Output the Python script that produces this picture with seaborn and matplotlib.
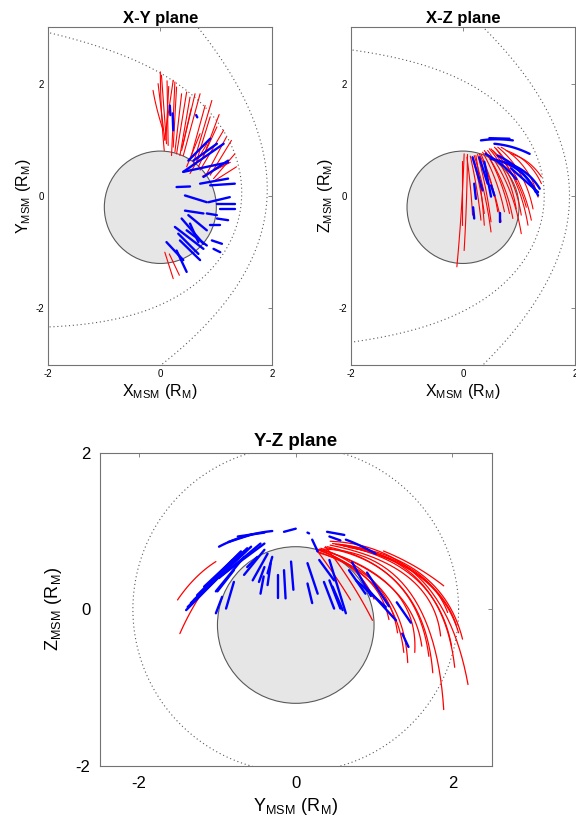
import numpy as np
import pandas as pd
import matplotlib
matplotlib.use("Agg")
import matplotlib.pyplot as plt
import seaborn as sns
from matplotlib.patches import Circle

# trajectories: (x0, y0, x1, y1) straight,
# or (x0, y0, xmid, ymid, x1, y1) when the track is bent
XY_RED = [
    (0.00, 2.21, 0.02, 1.50, 0.07, 0.81), (0.02, 2.15, 0.11, 0.93),
    (-0.13, 1.88, -0.06, 1.55, 0.05, 1.17), (-0.04, 2.00, 0.08, 0.99),
    (0.12, 2.05, 0.14, 0.90), (0.15, 1.95, 0.10, 1.00),
    (0.23, 2.06, 0.08, 1.05), (0.26, 2.03, 0.20, 0.72), (0.29, 1.94, 0.23, 0.87),
    (0.38, 1.82, 0.26, 0.78), (0.47, 1.85, 0.29, 0.75), (0.53, 1.76, 0.35, 0.72),
    (0.62, 1.82, 0.38, 0.81), (0.71, 1.82, 0.41, 0.72), (0.80, 1.61, 0.53, 0.63),
    (0.92, 1.70, 0.59, 0.58), (0.89, 1.41, 0.65, 0.63), (1.01, 1.23, 0.68, 0.52),
    (1.13, 1.17, 0.71, 0.46), (1.18, 1.05, 0.83, 0.40), (1.27, 0.99, 0.89, 0.37),
    (1.33, 0.75, 0.95, 0.31), (1.36, 0.52, 0.98, 0.28), (0.83, 0.93, 0.53, 0.40),
    (0.71, 1.11, 0.47, 0.52), (0.55, 1.55, 0.40, 0.90), (1.05, 1.45, 0.75, 0.65),
    (0.75, 0.35, 1.25, 0.60), (0.08, -1.00, 0.23, -1.47), (0.16, -1.03, 0.34, -1.41),
]
XY_BLUE = [
    (0.17, 1.61, 0.18, 1.44), (0.22, 1.47, 0.23, 1.17), (0.64, 1.44, 0.66, 1.40),
    (0.50, 0.63, 0.89, 1.02), (0.41, 0.43, 1.13, 0.93), (0.59, 0.63, 1.01, 0.93),
    (0.77, 0.34, 1.21, 0.63), (0.41, 0.43, 1.21, 0.60), (0.71, 0.22, 1.21, 0.31),
    (0.29, 0.16, 0.53, 0.17), (0.89, 0.19, 1.33, 0.22), (0.44, 0.01, 0.83, -0.11),
    (0.86, -0.11, 1.24, -0.02), (1.01, -0.14, 1.33, -0.14), (1.07, -0.23, 1.33, -0.23),
    (0.44, -0.26, 0.77, -0.31), (0.83, -0.31, 1.01, -0.34), (0.50, -0.34, 0.83, -0.61),
    (0.38, -0.40, 0.77, -0.85), (1.01, -0.40, 1.21, -0.43), (0.26, -0.55, 0.77, -0.94),
    (0.11, -0.82, 0.41, -1.14), (0.29, -0.97, 0.47, -1.35), (0.32, -0.67, 0.68, -1.03),
    (0.92, -0.79, 1.10, -0.85), (0.95, -0.94, 1.07, -1.00), (0.35, -0.79, 0.71, -1.14),
    (0.47, -0.61, 0.83, -0.88), (0.89, -0.52, 1.07, -0.52), (0.53, -0.49, 0.68, -0.82),
]
XZ_RED = [
    (0.02, 0.75, -0.03, -0.25, -0.11, -1.26), (0.08, 0.74, 0.06, -0.12, 0.02, -0.97),
    (-0.01, 0.63, -0.01, -0.52), (0.07, 0.69, 0.13, 0.18, 0.17, -0.34),
    (0.13, 0.71, 0.24, 0.15, 0.32, -0.43), (0.17, 0.69, 0.29, 0.20, 0.38, -0.31),
    (0.20, 0.72, 0.38, 0.05, 0.50, -0.64), (0.26, 0.74, 0.40, 0.15, 0.50, -0.46),
    (0.29, 0.75, 0.52, 0.17, 0.68, -0.46), (0.35, 0.78, 0.58, 0.28, 0.74, -0.28),
    (0.38, 0.81, 0.70, 0.24, 0.89, -0.40), (0.44, 0.81, 0.82, 0.13, 1.04, -0.67),
    (0.50, 0.84, 0.85, 0.31, 1.04, -0.34), (0.56, 0.87, 0.97, 0.30, 1.22, -0.43),
    (0.62, 0.87, 1.02, 0.40, 1.25, -0.23), (0.68, 0.87, 1.10, 0.50, 1.34, -0.02),
    (0.77, 0.81, 1.14, 0.59, 1.40, 0.22), (0.86, 0.75, 1.16, 0.60, 1.40, 0.34),
    (0.41, 0.78, 0.66, 0.27, 0.83, -0.31), (0.53, 0.81, 0.90, 0.36, 1.13, -0.20),
    (0.32, 0.75, 0.50, 0.25, 0.62, -0.28), (0.23, 0.72, 0.32, 0.10, 0.38, -0.52),
    (0.59, 0.84, 0.95, 0.22, 1.16, -0.52), (0.47, 0.84, 0.78, 0.35, 0.95, -0.23),
]
XZ_BLUE = [
    (0.32, 0.99, 0.60, 1.01, 0.89, 0.99), (0.47, 1.03, 0.83, 1.02),
    (0.56, 0.93, 0.88, 0.87, 1.19, 0.75), (0.17, 0.69, 0.35, 0.10),
    (0.20, 0.22, 0.23, -0.05), (0.18, -0.20, 0.20, -0.40), (0.66, -0.30, 0.66, -0.46),
    (0.50, 0.66, 1.00, 0.45, 1.34, 0.01), (0.74, 0.60, 1.10, 0.43, 1.37, 0.13),
    (0.38, 0.61, 0.50, -0.01), (0.62, 0.72, 1.02, 0.45, 1.30, 0.07),
    (0.86, 0.49, 1.34, 0.07), (0.29, 0.69, 0.44, 0.22), (0.50, 0.19, 0.56, 0.01),
    (0.40, 0.75, 0.70, 0.55, 0.95, 0.30),
]
YZ_RED = [
    (0.44, 0.87, 1.60, 0.38, 2.20, -0.96), (0.35, 0.77, 1.44, 0.24, 1.89, -1.28),
    (0.54, 0.83, 1.60, 0.45, 2.13, -0.38), (0.47, 0.84, 1.56, 0.38, 2.03, -0.74),
    (0.37, 0.79, 1.35, 0.28, 1.75, -0.81), (0.30, 0.72, 1.12, 0.22, 1.43, -0.68),
    (0.27, 0.74, 1.05, 0.25, 1.38, -0.55), (0.68, 0.79, 1.50, 0.50, 1.94, -0.04),
    (0.61, 0.81, 1.58, 0.42, 2.08, -0.30), (0.30, 0.77, 1.22, 0.28, 1.61, -0.47),
    (0.27, 0.77, 0.72, 0.52, 1.00, 0.13), (0.28, 0.76, 0.90, 0.40, 1.19, -0.13),
    (0.44, 0.82, 1.45, 0.40, 1.85, -0.34), (0.51, 0.83, 1.52, 0.40, 1.99, -0.47),
    (0.33, 0.76, 1.25, 0.25, 1.52, -0.55), (1.12, 0.745, 1.52, 0.55, 1.89, 0.30),
    (0.28, 0.74, 0.50, 0.43, 0.70, 0.12), (0.38, 0.80, 0.70, 0.35, 0.98, -0.14),
    (0.40, 0.80, 1.30, 0.33, 1.70, -0.60), (0.58, 0.82, 1.55, 0.45, 2.05, -0.20),
    (0.32, 0.78, 1.00, 0.35, 1.30, -0.30),
    (-1.51, 0.12, -1.28, 0.40, -1.02, 0.61), (-1.48, -0.31, -1.32, 0.01, -1.13, 0.31),
]
YZ_BLUE = [
    (-0.98, 0.80, -0.66, 0.93, -0.30, 1.00), (-0.74, 0.93, -0.40, 0.98),
    (-0.86, 0.86, -0.55, 0.96), (-0.15, 0.99, 0.00, 1.03), (0.15, 0.98, 0.17, 0.97),
    (0.40, 0.99, 0.62, 0.95), (0.43, 0.93, 0.57, 0.88),
    (0.64, 0.89, 0.83, 0.81, 1.02, 0.71), (0.21, 0.89, 0.28, 0.74),
    (-1.40, -0.01, -0.66, 0.74), (-1.34, 0.08, -0.62, 0.78), (-1.30, 0.12, -0.57, 0.80),
    (-1.26, 0.18, -0.70, 0.74), (-1.17, 0.29, -0.72, 0.71), (-1.13, 0.27, -0.81, 0.63),
    (-1.06, 0.35, -0.64, 0.74), (-1.02, 0.23, -0.66, 0.67), (-0.98, 0.40, -0.45, 0.84),
    (-0.94, 0.44, -0.40, 0.84), (-0.66, 0.44, -0.40, 0.76), (-0.55, 0.37, -0.36, 0.71),
    (-0.62, 0.54, -0.49, 0.67), (-0.36, 0.46, -0.30, 0.67), (-0.47, 0.35, -0.40, 0.54),
    (-0.45, 0.20, -0.41, 0.42), (-0.36, 0.31, -0.32, 0.59), (-0.23, 0.14, -0.23, 0.44),
    (-0.13, 0.14, -0.15, 0.50), (-0.06, 0.61, -0.03, 0.25), (-0.89, 0.01, -0.79, 0.35),
    (-1.02, -0.05, -0.94, 0.16), (-1.00, 0.23, -0.79, 0.50), (-1.38, 0.03, -0.85, 0.54),
    (0.15, 0.59, 0.28, 0.20), (0.15, 0.33, 0.21, 0.08), (0.30, 0.63, 0.49, 0.37),
    (0.36, 0.35, 0.49, 0.01), (0.43, 0.63, 0.64, -0.05), (0.43, 0.37, 0.57, 0.01),
    (0.47, 0.29, 0.60, -0.01), (0.68, 0.50, 0.89, 0.20), (0.77, 0.37, 1.15, 0.03),
    (0.89, 0.29, 1.28, -0.14), (1.36, -0.31, 1.44, -0.48), (0.72, 0.60, 0.96, 0.17),
    (0.91, 0.47, 1.19, 0.04), (1.29, 0.09, 1.47, -0.17),
]

# model boundary parameters (R_M)
MP_RSS, MP_ALPHA = 1.45, 0.5
BS_X0, BS_P, BS_EPS = 0.5, 2.75, 1.04
ABERRATION_DEG = -7.0
PLANET_CENTER, PLANET_R = -0.2, 1.0
YZ_MP_RADIUS = 2.08


def track_xy(t):
    if len(t) == 4:
        return np.array([t[0], t[2]]), np.array([t[1], t[3]])
    p0, pm, p1 = np.array(t[0:2]), np.array(t[2:4]), np.array(t[4:6])
    c = 2 * pm - 0.5 * (p0 + p1)
    s = np.linspace(0, 1, 30)[:, None]
    pts = (1 - s) ** 2 * p0 + 2 * s * (1 - s) * c + s ** 2 * p1
    return pts[:, 0], pts[:, 1]


def tracks_frame(red, blue):
    rows = []
    for kind, tracks in (("red", red), ("blue", blue)):
        for i, t in enumerate(tracks):
            x, y = track_xy(t)
            for xx, yy in zip(x, y):
                rows.append((f"{kind}{i}", kind, xx, yy))
    return pd.DataFrame(rows, columns=["track", "kind", "x", "y"])


def magnetopause():
    th = np.linspace(-2.6, 2.6, 500)
    r = MP_RSS * (2 / (1 + np.cos(th))) ** MP_ALPHA
    return r * np.cos(th), r * np.sin(th)


def bow_shock():
    th = np.linspace(-2.5, 2.5, 500)
    r = BS_P * BS_EPS / (1 + BS_EPS * np.cos(th))
    return BS_X0 + r * np.cos(th), r * np.sin(th)


def rotate(x, y, deg):
    a = np.deg2rad(deg)
    return x * np.cos(a) - y * np.sin(a), x * np.sin(a) + y * np.cos(a)


sns.set_theme(style="white")
plt.rcParams["font.family"] = ["Liberation Sans", "DejaVu Sans"]
plt.rcParams["axes.edgecolor"] = "0.45"
plt.rcParams["axes.linewidth"] = 0.8
plt.rcParams["axes.unicode_minus"] = False
plt.rcParams["text.color"] = "black"
plt.rcParams["axes.labelcolor"] = "black"

fig = plt.figure(figsize=(5.76, 8.24), dpi=100)
ax_xy = fig.add_axes([0.0839, 0.5575, 0.3889, 0.4092])
ax_xz = fig.add_axes([0.6094, 0.5575, 0.3889, 0.4092])
ax_yz = fig.add_axes([0.1736, 0.0704, 0.6797, 0.3802])

dot = dict(color="0.35", lw=0.8, ls=(0, (1, 2.5)), zorder=1.5)
palette = {"red": "#ff0000", "blue": "#0000ff"}

# ax, red, blue, title, x name, y name, xlim, ylim, tick size, label size,
# title size, red width, tick pad, xlabel pad, ylabel pad, title pad
panels = [
    (ax_xy, XY_RED, XY_BLUE, "X-Y plane", "X", "Y", (-2, 2), (-3, 3), 7, 11.5, 12, 0.8, 3, 2, 2, 3),
    (ax_xz, XZ_RED, XZ_BLUE, "X-Z plane", "X", "Z", (-2, 2), (-3, 3), 7, 11.5, 12, 0.8, 3, 2, 2, 3),
    (ax_yz, YZ_RED, YZ_BLUE, "Y-Z plane", "Y", "Z", (-2.5, 2.5), (-2, 2), 12, 13, 13.5, 0.9, 7, 4, 8, 5),
]

for (ax, red, blue, title, xn, yn, xl, yl, tsize, lsize, titsize, rlw,
     tpad, xpad, ypad, titpad) in panels:
    ax.add_patch(Circle((0, PLANET_CENTER), PLANET_R, fc="0.9", ec="0.35", lw=0.8, zorder=1))

    if ax is ax_yz:
        th = np.linspace(0, 2 * np.pi, 600)
        ax.plot(YZ_MP_RADIUS * np.cos(th), YZ_MP_RADIUS * np.sin(th), **dot)
    else:
        for fx, fy in (magnetopause(), bow_shock()):
            if ax is ax_xy:
                fx, fy = rotate(fx, fy, ABERRATION_DEG)
            ax.plot(fx, fy, **dot)

    df = tracks_frame(red, blue)
    sns.lineplot(data=df, x="x", y="y", units="track", estimator=None, sort=False,
                 hue="kind", palette=palette, size="kind",
                 sizes={"red": rlw, "blue": 1.7}, legend=False, ax=ax, zorder=2)

    ax.set_xlim(*xl)
    ax.set_ylim(*yl)
    ax.set_xticks([-2, 0, 2])
    ax.set_yticks([-2, 0, 2])
    ax.tick_params(direction="in", length=3, width=0.6, color="0.45", labelcolor="black",
                   top=True, right=True, labelsize=tsize, pad=tpad)
    ax.set_title(title, fontsize=titsize, fontweight="bold", pad=titpad)
    ax.set_xlabel(r"$\mathregular{%s_{MSM}\ (R_M)}$" % xn, fontsize=lsize, labelpad=xpad)
    ax.set_ylabel(r"$\mathregular{%s_{MSM}\ (R_M)}$" % yn, fontsize=lsize, labelpad=ypad)
    for s in ax.spines.values():
        s.set_visible(True)

fig.savefig("out.png", dpi=100)
